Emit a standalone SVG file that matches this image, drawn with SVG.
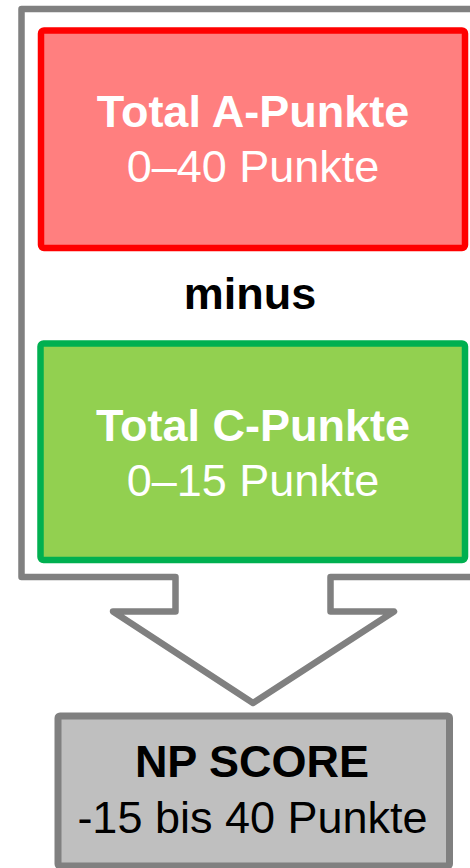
<svg xmlns="http://www.w3.org/2000/svg" width="470" height="868" viewBox="0 0 470 868">
  <style>
    .frame { fill: none; stroke: #808080; stroke-width: 6.5; stroke-linejoin: round; }
    .box { stroke-width: 6.5; }
    .t { font-family: "Liberation Sans", Arial, sans-serif; font-size: 45px; text-anchor: middle; }
    .b { font-weight: bold; }
    .w { fill: #FFFFFF; }
    .k { fill: #000000; }
  </style>
  <rect width="470" height="868" fill="#FFFFFF"/>

  <!-- outer frame that narrows into a downward block arrow -->
  <g id="connectors">
    <path class="frame" d="M 480 9 L 21.5 9 L 21.5 577 L 175.5 577 L 175.5 611.5 L 113 611.5 L 253 703 L 394 611.5 L 330.5 611.5 L 330.5 577 L 480 577"/>
  </g>

  <g id="node-a">
    <rect class="box" x="41" y="30.5" width="424" height="217.5" rx="3" fill="#FF7F7F" stroke="#FF0000"/>
    <text class="t b w" x="253" y="127">Total A-Punkte</text>
    <text class="t w" x="253" y="182">0–40 Punkte</text>
  </g>

  <g id="label-minus">
    <text class="t b k" x="250" y="309">minus</text>
  </g>

  <g id="node-c">
    <rect class="box" x="40.5" y="343.5" width="424.5" height="216.5" rx="3" fill="#92D050" stroke="#00B050"/>
    <text class="t b w" x="253" y="441">Total C-Punkte</text>
    <text class="t w" x="253" y="496">0–15 Punkte</text>
  </g>

  <g id="node-score">
    <rect x="58" y="716" width="391.5" height="150" rx="2" fill="#BFBFBF" stroke="#808080" stroke-width="7"/>
    <text class="t b k" x="252" y="777">NP SCORE</text>
    <text class="t k" x="252.5" y="833">-15 bis 40 Punkte</text>
  </g>
</svg>
